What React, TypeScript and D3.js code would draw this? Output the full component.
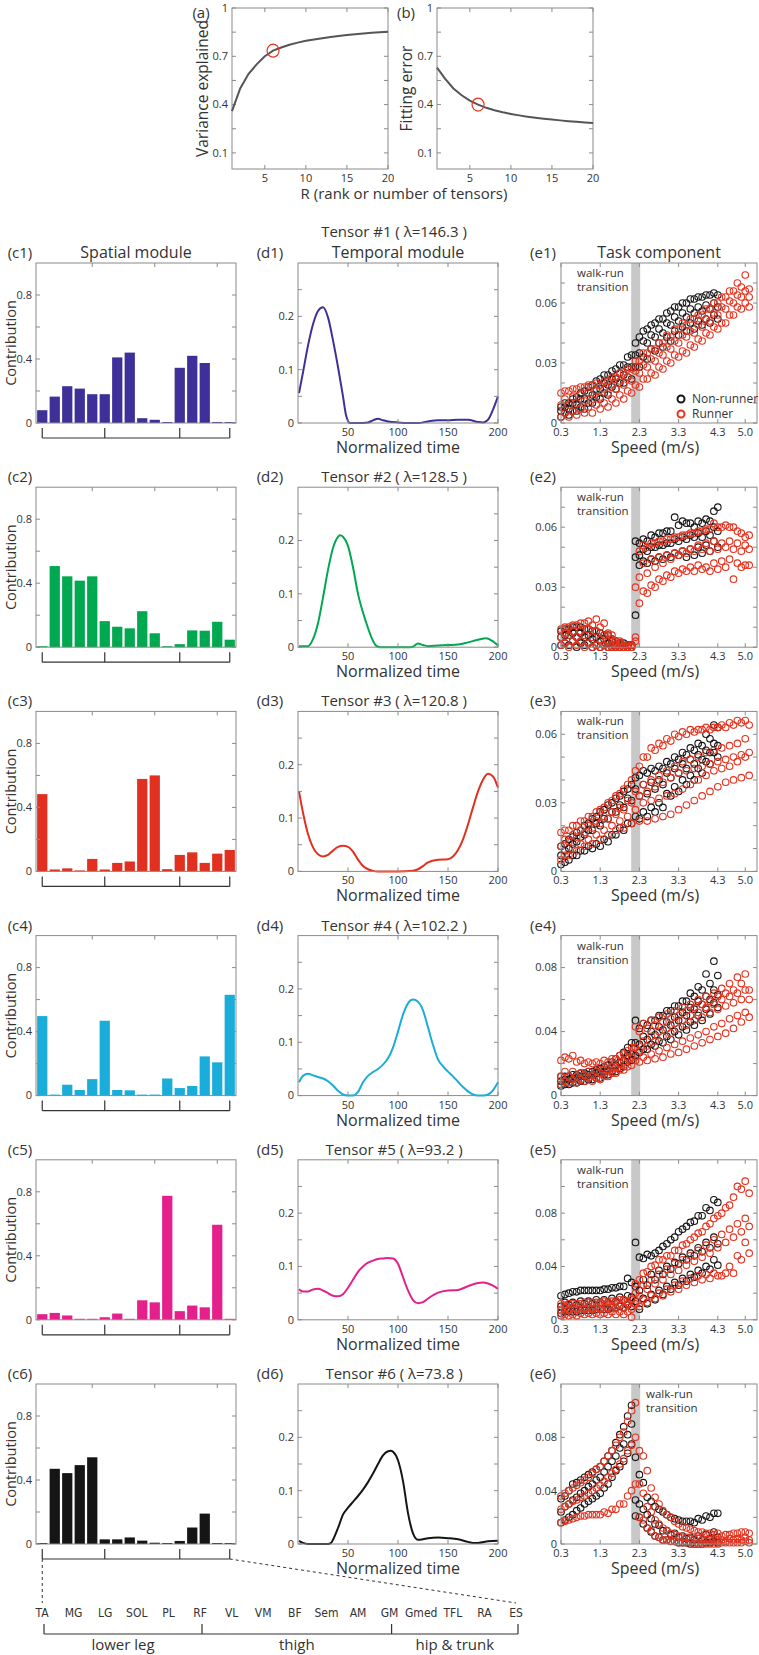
import React from 'react';
import * as d3 from 'd3';

const FONT = "'Open Sans', 'Noto Sans', 'DejaVu Sans', sans-serif";
const NARROW = "'Liberation Sans Narrow', 'DejaVu Sans Condensed', 'Roboto', sans-serif";
const AXIS = '#8a8a8a';
const TXT = '#333333';

// ---------- (a) / (b) ----------
const RANKS = [1, 2, 3, 4, 5, 6, 7, 8, 9, 10, 11, 12, 13, 14, 15, 16, 17, 18, 19, 20];
const VARIANCE_EXPLAINED = [0.36, 0.5, 0.59, 0.65, 0.7, 0.735, 0.755, 0.772, 0.785, 0.796, 0.805, 0.812, 0.82, 0.826, 0.832, 0.837, 0.842, 0.846, 0.85, 0.853];
const FITTING_ERROR = [0.63, 0.56, 0.5, 0.458, 0.425, 0.4, 0.38, 0.365, 0.352, 0.342, 0.333, 0.325, 0.318, 0.312, 0.307, 0.302, 0.297, 0.293, 0.289, 0.285];
const SELECTED_RANK = 6;
const TOP_Y_TICKS = [0.1, 0.25, 0.4, 0.55, 0.7, 0.85, 1.0];
const TOP_Y_LABELS = ['0.1', '', '0.4', '', '0.7', '', '1'];
const TOP_X_TICKS = [5, 10, 15, 20];

// ---------- spatial modules ----------
const MUSCLES = ['TA', 'MG', 'LG', 'SOL', 'PL', 'RF', 'VL', 'VM', 'BF', 'Sem', 'AM', 'GM', 'Gmed', 'TFL', 'RA', 'ES'];
const SPATIAL_1 = [0.08, 0.165, 0.23, 0.215, 0.18, 0.18, 0.41, 0.44, 0.03, 0.02, 0.003, 0.345, 0.42, 0.375, 0, 0];
const SPATIAL_2 = [0, 0.507, 0.443, 0.416, 0.443, 0.163, 0.128, 0.118, 0.225, 0.087, 0, 0.019, 0.105, 0.103, 0.159, 0.047];
const SPATIAL_3 = [0.483, 0.012, 0.019, 0, 0.078, 0.012, 0.053, 0.062, 0.578, 0.6, 0.014, 0.103, 0.119, 0.053, 0.111, 0.134];
const SPATIAL_4 = [0.497, 0.004, 0.068, 0.035, 0.103, 0.468, 0.035, 0.033, 0.002, 0, 0.107, 0.047, 0.06, 0.245, 0.208, 0.63];
const SPATIAL_5 = [0.035, 0.043, 0.027, 0.002, 0.002, 0.016, 0.039, 0.002, 0.122, 0.109, 0.775, 0.054, 0.089, 0.078, 0.594, 0.006];
const SPATIAL_6 = [0, 0.47, 0.443, 0.493, 0.542, 0.029, 0.029, 0.041, 0.021, 0.008, 0, 0.019, 0.103, 0.19, 0, 0];
const SPATIAL = [SPATIAL_1, SPATIAL_2, SPATIAL_3, SPATIAL_4, SPATIAL_5, SPATIAL_6];
const C_Y_TICKS = [0, 0.2, 0.4, 0.6, 0.8];
const C_Y_LABELS = ['0', '', '0.4', '', '0.8'];

// ---------- temporal modules ----------
const TEMPORAL_T1 = [1, 5, 10, 15, 20, 25, 30, 35, 40, 45, 48, 52, 60, 70, 75, 80, 85, 90, 100, 110, 120, 130, 140, 150, 160, 170, 180, 185, 190, 195, 200];
const TEMPORAL_V1 = [0.056, 0.095, 0.145, 0.185, 0.21, 0.217, 0.198, 0.155, 0.105, 0.05, 0.015, 0, 0, 0.001, 0.005, 0.008, 0.005, 0.003, 0.001, 0, 0, 0.003, 0.005, 0.005, 0.006, 0.006, 0.002, 0.001, 0.006, 0.025, 0.05];
const TEMPORAL_T2 = [1, 10, 15, 20, 25, 30, 35, 40, 42, 45, 50, 55, 60, 65, 70, 75, 78, 82, 110, 115, 120, 125, 130, 140, 150, 160, 170, 180, 188, 195, 200];
const TEMPORAL_V2 = [0.002, 0.002, 0.015, 0.045, 0.093, 0.145, 0.186, 0.207, 0.21, 0.207, 0.19, 0.15, 0.1, 0.065, 0.036, 0.012, 0.003, 0, 0, 0.001, 0.007, 0.004, 0.002, 0.003, 0.004, 0.005, 0.009, 0.014, 0.017, 0.011, 0.003];
const TEMPORAL_T3 = [1, 5, 10, 15, 20, 25, 30, 35, 40, 45, 50, 55, 60, 65, 70, 75, 80, 100, 115, 120, 125, 130, 140, 150, 155, 160, 165, 170, 175, 180, 185, 190, 195, 200];
const TEMPORAL_V3 = [0.15, 0.11, 0.07, 0.045, 0.032, 0.028, 0.031, 0.039, 0.046, 0.048, 0.046, 0.037, 0.022, 0.01, 0.004, 0.001, 0, 0, 0.001, 0.004, 0.01, 0.017, 0.022, 0.023, 0.028, 0.04, 0.06, 0.088, 0.12, 0.15, 0.172, 0.183, 0.178, 0.157];
const TEMPORAL_T4 = [1, 5, 10, 15, 20, 25, 30, 35, 40, 45, 50, 55, 60, 65, 70, 75, 80, 85, 90, 95, 100, 105, 110, 115, 120, 125, 130, 135, 140, 145, 150, 155, 160, 165, 170, 175, 180, 185, 190, 195, 200];
const TEMPORAL_V4 = [0.025, 0.037, 0.041, 0.038, 0.035, 0.032, 0.027, 0.019, 0.009, 0.002, 0, 0, 0.007, 0.025, 0.037, 0.044, 0.05, 0.058, 0.07, 0.09, 0.12, 0.152, 0.173, 0.18, 0.176, 0.16, 0.128, 0.095, 0.068, 0.055, 0.045, 0.036, 0.026, 0.016, 0.008, 0.002, 0, 0, 0.002, 0.01, 0.025];
const TEMPORAL_T5 = [1, 5, 10, 15, 20, 25, 30, 35, 40, 45, 50, 55, 60, 65, 70, 75, 80, 85, 90, 95, 100, 105, 110, 115, 120, 125, 130, 140, 150, 160, 170, 180, 185, 190, 195, 200];
const TEMPORAL_V5 = [0.057, 0.053, 0.053, 0.057, 0.058, 0.055, 0.05, 0.045, 0.044, 0.048, 0.06, 0.075, 0.09, 0.1, 0.107, 0.111, 0.114, 0.115, 0.116, 0.115, 0.105, 0.08, 0.055, 0.037, 0.031, 0.033, 0.04, 0.051, 0.055, 0.056, 0.063, 0.069, 0.07, 0.068, 0.064, 0.058];
const TEMPORAL_T6 = [1, 5, 10, 15, 20, 25, 30, 33, 35, 40, 45, 50, 55, 60, 65, 70, 75, 80, 85, 90, 93, 95, 100, 105, 110, 115, 120, 125, 130, 140, 150, 160, 170, 175, 180, 190, 200];
const TEMPORAL_V6 = [0.006, 0.002, 0, 0, 0, 0, 0, 0.002, 0.008, 0.03, 0.055, 0.068, 0.079, 0.09, 0.102, 0.116, 0.132, 0.15, 0.166, 0.174, 0.175, 0.173, 0.157, 0.118, 0.058, 0.02, 0.008, 0.009, 0.011, 0.012, 0.011, 0.009, 0.004, 0.002, 0.002, 0.005, 0.006];
const TEMPORAL_T = [TEMPORAL_T1, TEMPORAL_T2, TEMPORAL_T3, TEMPORAL_T4, TEMPORAL_T5, TEMPORAL_T6];
const TEMPORAL_V = [TEMPORAL_V1, TEMPORAL_V2, TEMPORAL_V3, TEMPORAL_V4, TEMPORAL_V5, TEMPORAL_V6];
const D_Y_TICKS = [0, 0.05, 0.1, 0.15, 0.2, 0.25];
const D_Y_LABELS = ['0', '', '0.1', '', '0.2', ''];
const D_X_TICKS = [50, 100, 150, 200];

const TENSOR_LAMBDA = ['146.3', '128.5', '120.8', '102.2', '93.2', '73.8'];
const MODULE_COLORS = ['#3d3199', '#00a84f', '#e1301f', '#1badd9', '#e3208b', '#151515'];

// ---------- task components (values in thousandths) ----------
const NR_SPEEDS_A = [0.3, 0.5, 0.7, 0.9, 1.1, 1.3, 1.5, 1.7, 1.9, 2.1, 2.3, 2.5, 2.7, 2.9, 3.1, 3.3, 3.5, 3.7, 3.9, 4.1, 4.3];
const NR_SPEEDS_B = [0.4, 0.6, 0.8, 1.0, 1.2, 1.4, 1.6, 1.8, 2.0, 2.2, 2.4, 2.6, 2.8, 3.0, 3.2, 3.4, 3.6, 3.8, 4.0, 4.2];
const RU_SPEEDS_A = [0.3, 0.5, 0.7, 0.9, 1.1, 1.3, 1.5, 1.7, 1.9, 2.1, 2.3, 2.5, 2.7, 2.9, 3.1, 3.3, 3.5, 3.7, 3.9, 4.1, 4.3, 4.5, 4.7, 4.9, 5.1];
const RU_SPEEDS_B = [0.4, 0.6, 0.8, 1.0, 1.2, 1.4, 1.6, 1.8, 2.0, 2.2, 2.4, 2.6, 2.8, 3.0, 3.2, 3.4, 3.6, 3.8, 4.0, 4.2, 4.4, 4.6, 4.8, 5.0];

// subjects alternate speed sets: A, B, A, B, A, B
const E1_NONRUNNER = [
  [3, 4, 6, 7, 10, 12, 14, 17, 20, 22, 28, 32, 36, 38, 41, 44, 46, 47, 49, 50, 52],
  [5, 6, 8, 10, 13, 15, 18, 20, 23, 28, 33, 37, 40, 43, 46, 48, 50, 51, 52, 54],
  [6, 7, 9, 12, 14, 17, 19, 22, 24, 28, 35, 40, 43, 45, 49, 51, 53, 55, 56, 57, 58],
  [8, 10, 12, 15, 17, 20, 22, 25, 28, 34, 41, 44, 47, 50, 53, 55, 57, 58, 59, 60],
  [8, 10, 13, 16, 19, 22, 24, 27, 29, 34, 43, 47, 50, 52, 56, 58, 60, 62, 63, 64, 64],
  [10, 12, 15, 18, 21, 24, 26, 29, 33, 40, 46, 49, 52, 55, 58, 60, 62, 63, 64, 65],
];
const E1_RUNNER = [
  [3, 3, 4, 5, 5, 7, 8, 10, 12, 15, 18, 22, 24, 27, 30, 33, 35, 38, 41, 44, 47, 50, 54, 57, 58],
  [5, 6, 7, 8, 9, 10, 12, 14, 16, 19, 22, 25, 28, 31, 34, 36, 39, 42, 45, 48, 50, 54, 58, 60],
  [9, 9, 10, 11, 12, 13, 15, 17, 19, 21, 25, 28, 31, 34, 37, 40, 43, 45, 48, 51, 54, 57, 60, 63, 63],
  [12, 13, 14, 15, 16, 17, 19, 21, 23, 26, 29, 32, 35, 38, 41, 44, 46, 49, 52, 55, 58, 61, 64, 66],
  [15, 16, 17, 18, 19, 19, 21, 23, 25, 27, 31, 35, 37, 40, 43, 47, 49, 52, 54, 57, 60, 63, 66, 68, 67],
  [16, 17, 18, 19, 20, 21, 23, 25, 27, 31, 35, 37, 40, 44, 47, 50, 52, 54, 57, 60, 63, 66, 70, 74],
];
const E2_NONRUNNER = [
  [1, 1, 0, 1, 0, 0, 0, 0, 0, 0, 41, 42, 43, 44, 45, 46, 45, 46, 47, 48, 50],
  [2, 3, 2, 2, 1, 1, 0, 0, 0, 16, 43, 44, 45, 46, 47, 48, 49, 50, 51, 53],
  [5, 6, 5, 5, 4, 3, 2, 1, 0, 1, 46, 48, 50, 51, 52, 53, 54, 55, 55, 56, 58],
  [6, 7, 7, 6, 5, 4, 3, 2, 1, 45, 49, 50, 51, 52, 54, 55, 56, 57, 58, 60],
  [8, 9, 10, 9, 8, 7, 6, 3, 2, 1, 52, 53, 55, 57, 58, 61, 62, 60, 62, 63, 70],
  [9, 10, 10, 9, 8, 6, 4, 2, 1, 53, 54, 56, 57, 58, 65, 63, 62, 63, 64, 68],
];
const E2_RUNNER = [
  [1, 0, 1, 0, 0, 0, 0, 0, 0, 0, 22, 27, 30, 33, 35, 37, 38, 38, 39, 38, 39, 40, 34, 40, 41],
  [2, 3, 3, 2, 1, 1, 0, 0, 0, 3, 28, 31, 34, 36, 38, 39, 40, 41, 40, 42, 43, 44, 42, 41],
  [5, 6, 5, 6, 5, 4, 3, 1, 0, 0, 35, 37, 40, 42, 44, 46, 47, 48, 49, 48, 49, 50, 49, 48, 49],
  [7, 8, 8, 9, 8, 6, 4, 2, 0, 30, 42, 44, 45, 46, 47, 48, 49, 51, 52, 53, 52, 53, 52, 51],
  [9, 10, 11, 12, 11, 10, 7, 3, 1, 1, 48, 50, 52, 53, 54, 55, 56, 57, 58, 59, 60, 61, 60, 57, 56],
  [10, 11, 12, 13, 14, 12, 6, 3, 1, 5, 51, 52, 53, 54, 55, 56, 57, 58, 59, 62, 60, 60, 58, 55],
];
const E3_NONRUNNER = [
  [3, 5, 7, 9, 10, 11, 13, 16, 18, 21, 23, 24, 26, 28, 33, 35, 38, 40, 43, 47, 50],
  [4, 7, 9, 11, 12, 14, 16, 19, 21, 24, 26, 28, 30, 34, 37, 40, 42, 45, 48, 52],
  [7, 10, 13, 16, 18, 20, 23, 26, 28, 31, 33, 34, 36, 38, 41, 43, 45, 47, 49, 52, 55],
  [9, 12, 15, 18, 21, 23, 26, 29, 32, 36, 38, 39, 40, 43, 45, 47, 49, 51, 53, 56],
  [11, 14, 17, 20, 23, 26, 29, 32, 35, 38, 42, 43, 44, 45, 47, 49, 51, 53, 55, 58, 63],
  [12, 15, 18, 21, 24, 27, 30, 33, 36, 41, 44, 45, 46, 48, 50, 52, 54, 56, 60, 64],
];
const E3_RUNNER = [
  [5, 7, 9, 11, 12, 14, 16, 18, 19, 21, 22, 22, 23, 24, 25, 27, 29, 31, 33, 35, 37, 39, 40, 41, 42],
  [7, 10, 12, 14, 16, 18, 20, 22, 24, 27, 30, 31, 32, 33, 34, 36, 38, 40, 42, 44, 45, 46, 48, 50],
  [11, 13, 15, 17, 19, 21, 23, 25, 27, 30, 33, 35, 37, 39, 41, 43, 44, 45, 46, 47, 48, 49, 50, 51, 52],
  [14, 16, 18, 20, 22, 24, 26, 28, 31, 35, 38, 40, 42, 44, 46, 48, 49, 50, 52, 53, 54, 55, 56, 58],
  [17, 18, 20, 22, 24, 27, 30, 33, 36, 40, 46, 50, 53, 55, 57, 59, 60, 61, 62, 62, 63, 63, 64, 65, 64],
  [18, 20, 22, 24, 26, 28, 31, 34, 38, 44, 50, 54, 56, 58, 60, 61, 62, 62, 63, 63, 64, 65, 66, 66],
];
const E4_NONRUNNER = [
  [6, 7, 8, 9, 10, 11, 13, 15, 18, 22, 27, 29, 31, 33, 35, 38, 41, 44, 47, 51, 55],
  [7, 8, 9, 10, 11, 13, 15, 17, 21, 25, 29, 32, 34, 37, 40, 43, 46, 50, 54, 58],
  [9, 10, 11, 12, 13, 14, 16, 19, 22, 26, 32, 35, 38, 41, 44, 47, 50, 54, 57, 60, 63],
  [10, 11, 12, 13, 14, 15, 18, 21, 25, 33, 37, 40, 43, 46, 49, 52, 55, 59, 62, 66],
  [12, 12, 13, 14, 15, 17, 19, 23, 27, 33, 42, 44, 47, 50, 53, 56, 59, 62, 66, 70, 75],
  [12, 13, 14, 15, 16, 18, 21, 25, 30, 47, 45, 47, 50, 53, 56, 59, 64, 68, 76, 84],
];
const E4_RUNNER = [
  [7, 8, 8, 9, 9, 10, 12, 14, 16, 19, 21, 22, 23, 24, 26, 27, 29, 31, 33, 35, 37, 39, 42, 46, 49],
  [9, 10, 10, 11, 11, 12, 14, 16, 18, 22, 24, 26, 28, 30, 32, 34, 36, 38, 40, 43, 45, 48, 50, 52],
  [12, 12, 12, 13, 13, 14, 16, 18, 21, 24, 28, 31, 34, 37, 39, 42, 44, 47, 49, 52, 54, 56, 58, 60, 60],
  [15, 15, 14, 15, 15, 16, 18, 20, 23, 30, 34, 37, 40, 42, 45, 47, 50, 52, 55, 57, 60, 62, 64, 66],
  [22, 23, 21, 20, 20, 20, 21, 23, 26, 30, 40, 42, 44, 46, 48, 50, 53, 55, 57, 59, 62, 64, 66, 70, 66],
  [24, 25, 22, 21, 21, 22, 23, 25, 28, 43, 45, 47, 49, 51, 53, 55, 57, 60, 62, 64, 67, 70, 74, 76],
];
const E5_NONRUNNER = [
  [5, 6, 6, 7, 7, 8, 8, 9, 9, 10, 8, 12, 15, 19, 23, 26, 29, 32, 35, 38, 41],
  [6, 6, 7, 7, 8, 8, 9, 10, 11, 14, 16, 19, 22, 25, 28, 31, 34, 37, 40, 45],
  [10, 11, 11, 12, 12, 13, 13, 14, 15, 17, 22, 26, 30, 34, 38, 42, 45, 48, 51, 54, 57],
  [13, 13, 14, 14, 15, 15, 16, 17, 18, 25, 30, 34, 37, 40, 43, 47, 50, 54, 58, 62],
  [18, 20, 21, 22, 22, 22, 23, 24, 25, 28, 47, 49, 50, 55, 60, 66, 70, 74, 78, 82, 88],
  [19, 21, 22, 22, 22, 23, 24, 25, 31, 58, 46, 48, 52, 57, 62, 68, 73, 78, 84, 90],
];
const E5_RUNNER = [
  [3, 3, 3, 4, 4, 4, 4, 4, 4, 2, 10, 13, 16, 18, 21, 23, 26, 28, 30, 31, 33, 35, 35, 45, 50],
  [4, 4, 5, 5, 5, 5, 6, 6, 6, 12, 15, 18, 20, 23, 26, 29, 31, 33, 34, 35, 33, 40, 48, 58],
  [7, 7, 8, 8, 8, 8, 9, 9, 9, 8, 18, 23, 27, 30, 34, 37, 41, 44, 47, 50, 54, 58, 62, 66, 70],
  [9, 9, 10, 10, 10, 11, 11, 11, 12, 20, 26, 30, 34, 38, 42, 45, 48, 52, 56, 60, 64, 68, 72, 76],
  [12, 12, 12, 13, 13, 13, 13, 14, 15, 15, 30, 36, 41, 45, 48, 52, 57, 62, 66, 72, 78, 84, 92, 98, 95],
  [11, 12, 12, 13, 13, 14, 14, 15, 14, 27, 35, 40, 45, 48, 52, 56, 60, 65, 70, 76, 80, 86, 100, 104],
];
const E6_NONRUNNER = [
  [16, 20, 25, 30, 34, 38, 45, 55, 62, 75, 20, 12, 6, 3, 2, 1, 1, 0, 0, 1, 1],
  [18, 22, 27, 32, 36, 42, 50, 58, 68, 21, 15, 9, 5, 3, 2, 1, 0, 0, 1, 2],
  [24, 30, 35, 40, 45, 50, 58, 66, 75, 90, 30, 22, 15, 10, 7, 5, 4, 3, 3, 4, 5],
  [28, 33, 38, 43, 48, 54, 62, 72, 82, 33, 26, 19, 14, 10, 8, 6, 5, 6, 7, 9],
  [34, 40, 46, 50, 54, 58, 66, 76, 88, 104, 52, 35, 28, 24, 20, 18, 17, 16, 18, 20, 23],
  [36, 45, 48, 52, 56, 62, 70, 82, 96, 65, 46, 32, 26, 22, 19, 17, 17, 19, 21, 23],
];
const E6_RUNNER = [
  [16, 18, 20, 21, 22, 22, 23, 26, 30, 40, 20, 12, 6, 3, 2, 1, 1, 0, 0, 0, 0, 1, 1, 1, 1],
  [17, 19, 21, 22, 22, 24, 26, 30, 36, 45, 18, 10, 5, 3, 2, 1, 1, 0, 0, 0, 1, 1, 1, 2],
  [26, 30, 33, 36, 40, 44, 50, 56, 64, 74, 45, 28, 18, 12, 8, 6, 5, 4, 3, 3, 2, 2, 3, 3, 3],
  [28, 32, 35, 38, 42, 47, 53, 60, 70, 80, 38, 24, 15, 10, 7, 5, 4, 4, 3, 3, 3, 4, 4, 5],
  [36, 40, 44, 48, 53, 58, 66, 74, 84, 100, 70, 55, 35, 25, 20, 15, 12, 10, 9, 8, 8, 7, 8, 9, 8],
  [38, 42, 46, 50, 56, 62, 70, 80, 92, 106, 66, 42, 30, 22, 17, 13, 11, 9, 8, 7, 6, 7, 8, 9],
];
const E_NONRUNNER = [E1_NONRUNNER, E2_NONRUNNER, E3_NONRUNNER, E4_NONRUNNER, E5_NONRUNNER, E6_NONRUNNER];
const E_RUNNER = [E1_RUNNER, E2_RUNNER, E3_RUNNER, E4_RUNNER, E5_RUNNER, E6_RUNNER];
const E_Y_MAX = [0.08, 0.08, 0.07, 0.1, 0.12, 0.12];
const E_Y_TICKS = [
  [0, 0.01, 0.02, 0.03, 0.04, 0.05, 0.06, 0.07],
  [0, 0.01, 0.02, 0.03, 0.04, 0.05, 0.06, 0.07],
  [0, 0.01, 0.02, 0.03, 0.04, 0.05, 0.06],
  [0, 0.02, 0.04, 0.06, 0.08],
  [0, 0.02, 0.04, 0.06, 0.08, 0.1],
  [0, 0.02, 0.04, 0.06, 0.08, 0.1],
];
const E_Y_LABELLED = [['0', '0.03', '0.06'], ['0', '0.03', '0.06'], ['0', '0.03', '0.06'], ['0', '0.04', '0.08'], ['0', '0.04', '0.08'], ['0', '0.04', '0.08']];
const E_X_TICKS = [0.3, 1.3, 2.3, 3.3, 4.3, 5.0];
const E_X_LABELS = ['0.3', '1.3', '2.3', '3.3', '4.3', '5.0'];
const TRANSITION = [2.09, 2.32];
const NONRUNNER_COLOR = '#161616';
const RUNNER_COLOR = '#e5331f';

// ---------- layout ----------
const ROW_TOP = 263;
const ROW_STEP = 224.2;
const BOX_H = 160;
const C_RANGE: [number, number] = [36, 236];
const D_RANGE: [number, number] = [298, 498];
const E_RANGE: [number, number] = [561, 757];

type Tick = { p: number; l?: string };

function Frame({ x0, x1, y0, y1, xt, yt, topOnlyX }: { x0: number; x1: number; y0: number; y1: number; xt: Tick[]; yt: Tick[]; topOnlyX?: boolean }) {
  const L = 4;
  return (
    <g fontFamily={FONT}>
      {yt.map((t, i) => (
        <g key={'y' + i}>
          <line x1={x0} x2={x0 + L} y1={t.p} y2={t.p} stroke={AXIS} strokeWidth={1} />
          <line x1={x1} x2={x1 - L} y1={t.p} y2={t.p} stroke={AXIS} strokeWidth={1} />
          {t.l ? (
            <text x={x0 - 4} y={t.p} dy="0.35em" textAnchor="end" fontSize={11} fill={TXT}>{t.l}</text>
          ) : null}
        </g>
      ))}
      {xt.map((t, i) => (
        <g key={'x' + i}>
          <line x1={t.p} x2={t.p} y1={y0} y2={y0 + L} stroke={AXIS} strokeWidth={1} />
          {!topOnlyX && <line x1={t.p} x2={t.p} y1={y1} y2={y1 - L} stroke={AXIS} strokeWidth={1} />}
          {t.l ? (
            <text x={t.p} y={y1 + 13} textAnchor="middle" fontSize={11} fill={TXT}>{t.l}</text>
          ) : null}
        </g>
      ))}
      <rect x={x0} y={y0} width={x1 - x0} height={y1 - y0} fill="none" stroke={AXIS} strokeWidth={1} />
    </g>
  );
}

function TopPanel({ x0, x1, values, label, ylabel, labelX, ylabelX }: { x0: number; x1: number; values: number[]; label: string; ylabel: string; labelX: number; ylabelX: number }) {
  const y0 = 8, y1 = 169;
  const xs = d3.scaleLinear().domain([1, 20]).range([x0, x1]);
  const ys = d3.scaleLinear().domain([0, 1]).range([y1, y0]);
  const line = d3.line<number>().x((_, i) => xs(RANKS[i])).y((v) => ys(v));
  const sel = values[RANKS.indexOf(SELECTED_RANK)];
  return (
    <g>
      <Frame x0={x0} x1={x1} y0={y0} y1={y1}
        xt={TOP_X_TICKS.map((v) => ({ p: xs(v), l: String(v) }))}
        yt={TOP_Y_TICKS.map((v, i) => ({ p: ys(v), l: TOP_Y_LABELS[i] }))} />
      <path d={line(values) || ''} fill="none" stroke="#555555" strokeWidth={2} />
      <ellipse cx={xs(SELECTED_RANK)} cy={ys(sel)} rx={6} ry={6.5} fill="none" stroke="#e8321e" strokeWidth={1.2} />
      <text x={labelX} y={18} textAnchor="middle" fontSize={15} fontFamily={FONT} fill={TXT}>{label}</text>
      <text transform={`translate(${ylabelX},${(y0 + y1) / 2}) rotate(-90)`} textAnchor="middle" fontSize={15.5} fontFamily={FONT} fill={TXT}>{ylabel}</text>
    </g>
  );
}

function Row({ k }: { k: number }) {
  const top = ROW_TOP + k * ROW_STEP;
  const bot = top + BOX_H;
  const color = MODULE_COLORS[k];
  const n = k + 1;

  // spatial
  const xb = d3.scaleBand<string>().domain(MUSCLES).range(C_RANGE).paddingInner(0.18).paddingOuter(0.09);
  const yc = d3.scaleLinear().domain([0, 1]).range([bot, top]);
  const cTopTicks = [4, 9, 14].map((i) => ({ p: (xb(MUSCLES[i]) as number) + xb.bandwidth() / 2 }));
  const bracketY = bot + 15;
  const br = [0, 5, 11, 15].map((i) => (xb(MUSCLES[i]) as number) + xb.bandwidth() / 2);

  // temporal
  const xd = d3.scaleLinear().domain([0, 200]).range(D_RANGE);
  const yd = d3.scaleLinear().domain([0, 0.3]).range([bot, top]);
  const tArr = TEMPORAL_T[k];
  const vArr = TEMPORAL_V[k];
  const tLine = d3.line<number>().x((_, i) => xd(tArr[i])).y((v) => yd(v)).curve(d3.curveMonotoneX);

  // task
  const xe = d3.scaleLinear().domain([0.3, 5.3]).range(E_RANGE);
  const ye = d3.scaleLinear().domain([0, E_Y_MAX[k]]).range([bot, top]);
  const eLabels = E_Y_LABELLED[k];
  const fmt = (v: number) => (v === 0 ? '0' : String(+v.toFixed(2)));
  const pts = (groups: number[][], speedsA: number[], speedsB: number[]) => {
    const out: { x: number; y: number }[] = [];
    groups.forEach((vals, si) => {
      const sp = si % 2 === 0 ? speedsA : speedsB;
      vals.forEach((v, j) => {
        if (j < sp.length) out.push({ x: xe(sp[j]), y: ye(v / 1000) });
      });
    });
    return out;
  };
  const nrPts = pts(E_NONRUNNER[k], NR_SPEEDS_A, NR_SPEEDS_B);
  const ruPts = pts(E_RUNNER[k], RU_SPEEDS_A, RU_SPEEDS_B);

  const labY = top - 5;
  return (
    <g>
      {/* spatial panel */}
      {SPATIAL[k].map((v, i) => {
        const y = yc(v);
        const h = Math.max(bot - y, 1);
        return <rect key={i} x={xb(MUSCLES[i])} y={bot - h} width={xb.bandwidth()} height={h} fill={color} />;
      })}
      <Frame x0={C_RANGE[0]} x1={C_RANGE[1]} y0={top} y1={bot} topOnlyX
        xt={cTopTicks}
        yt={C_Y_TICKS.map((v, i) => ({ p: yc(v), l: C_Y_LABELS[i] }))} />
      <g stroke="#333" strokeWidth={1.2} fill="none">
        <line x1={br[0]} x2={br[3]} y1={bracketY} y2={bracketY} />
        {br.map((x, i) => <line key={i} x1={x} x2={x} y1={bracketY - 10} y2={bracketY} />)}
      </g>
      <text transform={`translate(16,${(top + bot) / 2}) rotate(-90)`} textAnchor="middle" fontSize={14.5} fontFamily={FONT} fill={TXT}>Contribution</text>
      <text x={20} y={labY} textAnchor="middle" fontSize={15} fontFamily={FONT} fill={TXT}>{`(c${n})`}</text>

      {/* temporal panel */}
      <path d={tLine(vArr) || ''} fill="none" stroke={color} strokeWidth={2} />
      <Frame x0={D_RANGE[0]} x1={D_RANGE[1]} y0={top} y1={bot}
        xt={D_X_TICKS.map((v) => ({ p: xd(v), l: String(v) }))}
        yt={D_Y_TICKS.map((v, i) => ({ p: yd(v), l: D_Y_LABELS[i] }))} />
      <text x={398} y={bot + 30} textAnchor="middle" fontSize={16} fontFamily={FONT} fill={TXT}>Normalized time</text>
      <text x={270} y={labY} textAnchor="middle" fontSize={15} fontFamily={FONT} fill={TXT}>{`(d${n})`}</text>
      <text x={394} y={k === 0 ? top - 26 : labY} textAnchor="middle" fontSize={15} fontFamily={FONT} fill={TXT}>{`Tensor #${n} ( \u03bb=${TENSOR_LAMBDA[k]} )`}</text>

      {/* task panel */}
      <rect x={xe(TRANSITION[0])} y={top} width={xe(TRANSITION[1]) - xe(TRANSITION[0])} height={BOX_H} fill="#c8c8c8" />
      <g fill="none" strokeWidth={1.1}>
        {nrPts.map((p, i) => <circle key={'n' + i} cx={p.x} cy={p.y} r={3.3} stroke={NONRUNNER_COLOR} />)}
        {ruPts.map((p, i) => <circle key={'r' + i} cx={p.x} cy={p.y} r={3.3} stroke={RUNNER_COLOR} />)}
      </g>
      <Frame x0={E_RANGE[0]} x1={E_RANGE[1]} y0={top} y1={bot}
        xt={E_X_TICKS.map((v, i) => ({ p: xe(v), l: E_X_LABELS[i] }))}
        yt={E_Y_TICKS[k].map((v) => ({ p: ye(v), l: eLabels.includes(fmt(v)) ? fmt(v) : '' }))} />
      <text x={k === 5 ? 646 : 577} y={top + 14} fontSize={11.5} fontFamily={FONT} fill={TXT}>walk-run</text>
      <text x={k === 5 ? 646 : 577} y={top + 28} fontSize={11.5} fontFamily={FONT} fill={TXT}>transition</text>
      <text x={655} y={bot + 30} textAnchor="middle" fontSize={16} fontFamily={FONT} fill={TXT}>Speed (m/s)</text>
      <text x={543} y={labY} textAnchor="middle" fontSize={15} fontFamily={FONT} fill={TXT}>{`(e${n})`}</text>

      {k === 0 && (
        <g fontFamily={FONT} fontSize={16} fill={TXT}>
          <text x={136} y={labY} textAnchor="middle">Spatial module</text>
          <text x={398} y={labY} textAnchor="middle">Temporal module</text>
          <text x={659} y={labY} textAnchor="middle">Task component</text>
          <circle cx={681} cy={399} r={3.5} fill="none" stroke={NONRUNNER_COLOR} strokeWidth={2} />
          <text x={692} y={403} fontSize={12}>Non-runner</text>
          <circle cx={681} cy={414} r={3.5} fill="none" stroke={RUNNER_COLOR} strokeWidth={2} />
          <text x={692} y={418} fontSize={12}>Runner</text>
        </g>
      )}
    </g>
  );
}

const MUSCLE_GROUPS = ['lower leg', 'thigh', 'hip & trunk'];
const GROUP_BOUNDS = [[0, 5], [5, 11], [11, 15]];

function Legend() {
  const lastBot = ROW_TOP + 5 * ROW_STEP + BOX_H;
  const bracketY = lastBot + 15;
  const xb = d3.scaleBand<string>().domain(MUSCLES).range(C_RANGE).paddingInner(0.18).paddingOuter(0.09);
  const bx0 = (xb('TA') as number) + xb.bandwidth() / 2;
  const bx1 = (xb('ES') as number) + xb.bandwidth() / 2;
  const xl = d3.scalePoint<string>().domain(MUSCLES).range([42, 516]);
  const gy = 1634;
  const gx = (i: number) => (xl(MUSCLES[i]) as number) + 2;
  return (
    <g>
      <line x1={bx0} x2={bx0} y1={bracketY} y2={1603} stroke="#333" strokeDasharray="3,3" />
      <line x1={bx1} x2={516} y1={bracketY} y2={1603} stroke="#333" strokeDasharray="3,3" />
      {MUSCLES.map((m) => (
        <text key={m} x={xl(m)} y={1617} textAnchor="middle" fontSize={12} fontFamily={NARROW} fill={TXT}>{m}</text>
      ))}
      <g stroke="#333" strokeWidth={1.2}>
        <line x1={gx(0)} x2={gx(15)} y1={gy} y2={gy} />
        {[0, 5, 11, 15].map((i) => <line key={i} x1={gx(i)} x2={gx(i)} y1={gy - 10} y2={gy} />)}
      </g>
      {MUSCLE_GROUPS.map((g, i) => (
        <text key={g} x={(gx(GROUP_BOUNDS[i][0]) + gx(GROUP_BOUNDS[i][1])) / 2} y={1650} textAnchor="middle" fontSize={15} fontFamily={FONT} fill={TXT}>{g}</text>
      ))}
    </g>
  );
}

export default function App() {
  return (
    <svg width={759} height={1655} viewBox="0 0 759 1655" style={{ position: 'absolute', left: 0, top: 0, display: 'block', background: '#fff' }}>
      <rect x={0} y={0} width={759} height={1655} fill="#fff" />
      <TopPanel x0={232} x1={388} values={VARIANCE_EXPLAINED} label="(a)" ylabel="Variance explained" labelX={201} ylabelX={208} />
      <TopPanel x0={437} x1={593} values={FITTING_ERROR} label="(b)" ylabel="Fitting error" labelX={406} ylabelX={412} />
      <text x={404} y={199} textAnchor="middle" fontSize={15} fontFamily={FONT} fill={TXT}>R (rank or number of tensors)</text>
      {[0, 1, 2, 3, 4, 5].map((k) => <Row key={k} k={k} />)}
      <Legend />
    </svg>
  );
}
